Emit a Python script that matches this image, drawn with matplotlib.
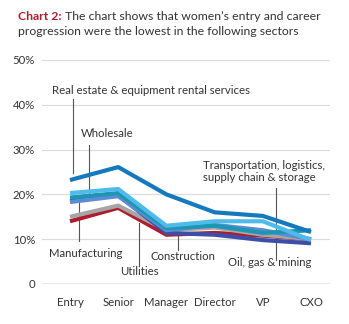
"""Chart 2: women's entry and career progression by sector."""

import matplotlib.pyplot as plt

plt.rcParams["font.family"] = ["Lato", "DejaVu Sans"]

LEVELS = ["Entry", "Senior", "Manager", "Director", "VP", "CXO"]

# share of women at each level, %
real_estate = [23.2, 26.1, 20.0, 16.0, 15.2, 11.6]
navy_sector = [18.5, 19.8, 11.4, 11.0, 9.8, 9.1]
manufacturing = [14.0, 17.0, 11.0, 11.4, 10.8, 10.0]
utilities = [15.0, 17.5, 12.0, 12.6, 11.0, 10.0]
periwinkle_sector = [18.3, 19.6, 12.0, 13.2, 12.0, 10.0]
wholesale = [19.3, 20.3, 12.5, 13.0, 11.4, 12.0]
transportation = [20.3, 21.2, 13.0, 14.0, 14.0, 9.8]

Y_TICKS = [0, 10, 20, 30, 40, 50]
Y_LABELS = ["0", "10%", "20%", "30%", "40%", "50%"]

x = list(range(len(LEVELS)))

fig = plt.figure(figsize=(3.49, 3.24), dpi=100)
ax = fig.add_axes([42 / 349, 40 / 324, 288 / 349, 224 / 324])

series = [
    (manufacturing, "#b01c2e"),
    (utilities, "#a6a6a6"),
    (navy_sector, "#3b4fa6"),
    (periwinkle_sector, "#5d8bd4"),
    (wholesale, "#1c97b3"),
    (transportation, "#4ebbea"),
    (real_estate, "#1479bd"),
]
for values, color in series:
    ax.plot(x, values, color=color, linewidth=3.0, solid_capstyle="butt", zorder=3)

ax.set_xlim(-0.581, 5.394)
ax.set_ylim(0, 50)
ax.set_yticks(Y_TICKS)
ax.set_yticklabels(Y_LABELS)
ax.set_xticks(x)
ax.set_xticklabels(LEVELS)
ax.tick_params(length=0, labelsize=8.2, colors="#333333")
ax.tick_params(axis="x", pad=9)
ax.tick_params(axis="y", pad=5)
for spine in ax.spines.values():
    spine.set_visible(False)
for t in Y_TICKS[1:]:
    ax.axhline(t, color="#dcdcdc", linewidth=0.9, zorder=1)
ax.axhline(0, color="#8c8c8c", linewidth=1.0, zorder=1)

# leader lines
leaders = [
    (0.062, 41.3, 24.8),
    (0.394, 31.0, 19.4),
    (0.187, 19.4, 9.6),
    (1.43, 13.6, 4.2),
    (2.24, 11.4, 7.6),
    (4.27, 21.4, 5.4),
]
for lx, y0, y1 in leaders:
    ax.plot([lx, lx], [y0, y1], color="#555555", linewidth=0.8, zorder=2)

label_kw = dict(fontsize=8.2, color="#333333", va="center", ha="left")
ax.text(-0.373, 43.3, "Real estate & equipment rental services", **label_kw)
ax.text(0.228, 33.7, "Wholesale", **label_kw)
ax.text(2.76, 25.2, "Transportation, logistics,\nsupply chain & storage",
        linespacing=1.1, **label_kw)
ax.text(-0.436, 6.9, "Manufacturing", **label_kw)
ax.text(1.04, 2.9, "Utilities", **label_kw)
ax.text(1.68, 6.25, "Construction", **label_kw)
ax.text(3.28, 4.7, "Oil, gas & mining", **label_kw)

# title
head = fig.text(18 / 349, 1 - 20 / 324, "Chart 2:", fontsize=8.8, fontweight="bold",
                color="#b01c2e", va="baseline")
ax.annotate(" The chart shows that women\u2019s entry and career",
            xy=(1, 0), xycoords=head, fontsize=8.8, color="#333333",
            va="bottom", ha="left", annotation_clip=False)
fig.text(18 / 349, 1 - 35 / 324, "progression were the lowest in the following sectors",
         fontsize=8.8, color="#333333", va="baseline")

fig.savefig("out.png", dpi=100)
